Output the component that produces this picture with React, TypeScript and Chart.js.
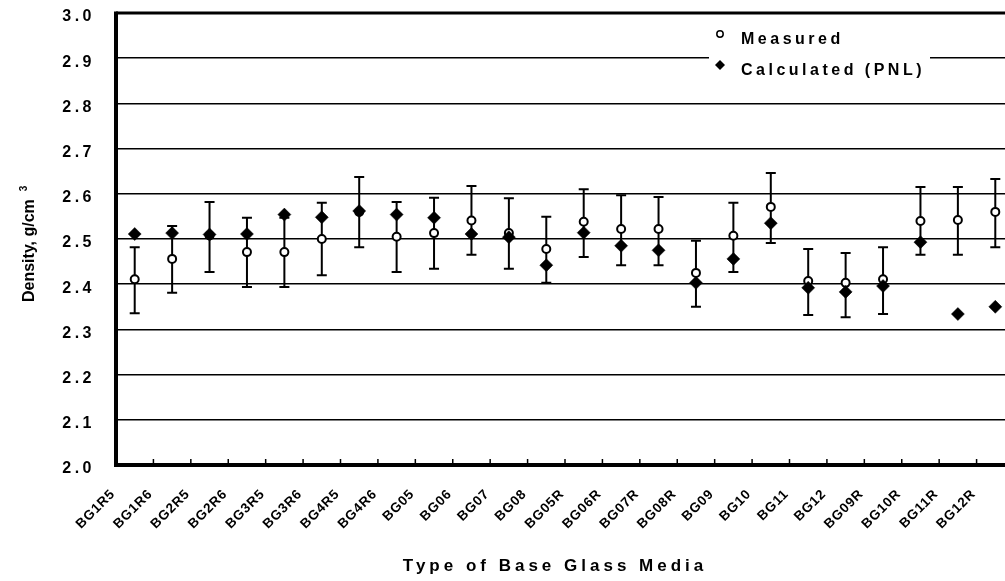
import React, { useEffect, useRef } from 'react';
import { Chart, registerables } from 'chart.js';

Chart.register(...registerables);

const categories = [
  'BG1R5', 'BG1R6', 'BG2R5', 'BG2R6', 'BG3R5', 'BG3R6', 'BG4R5', 'BG4R6',
  'BG05', 'BG06', 'BG07', 'BG08', 'BG05R', 'BG06R', 'BG07R', 'BG08R',
  'BG09', 'BG10', 'BG11', 'BG12', 'BG09R', 'BG10R', 'BG11R', 'BG12R',
];

const measured = [
  2.411, 2.456, 2.508, 2.471, 2.471, 2.500, 2.560, 2.505,
  2.513, 2.541, 2.513, 2.478, 2.538, 2.522, 2.522, 2.425,
  2.507, 2.571, 2.407, 2.403, 2.411, 2.540, 2.542, 2.560,
];

const calculated = [
  2.511, 2.513, 2.510, 2.511, 2.554, 2.548, 2.562, 2.554,
  2.547, 2.511, 2.504, 2.442, 2.514, 2.485, 2.475, 2.403,
  2.456, 2.535, 2.392, 2.383, 2.396, 2.493, 2.334, 2.350,
];

const errHigh = [
  2.482, 2.529, 2.582, 2.547, 2.547, 2.580, 2.637, 2.582,
  2.591, 2.617, 2.590, 2.549, 2.610, 2.597, 2.593, 2.496,
  2.580, 2.646, 2.478, 2.469, 2.482, 2.615, 2.615, 2.633,
];

const errLow = [
  2.336, 2.381, 2.427, 2.394, 2.394, 2.420, 2.482, 2.427,
  2.434, 2.465, 2.434, 2.403, 2.460, 2.442, 2.442, 2.350,
  2.427, 2.491, 2.332, 2.327, 2.334, 2.465, 2.465, 2.482,
];

const yMin = 2.0;
const yMax = 3.0;
const yStep = 0.1;

const xTitle = 'Type of Base Glass Media';
const yTitle = 'Density, g/cm';
const yTitleSup = '3';
const seriesLabels = ['Measured', 'Calculated (PNL)'];

const FONT = "'Liberation Sans', Arial, Helvetica, sans-serif";

const chartPlugin = {
  id: 'customDecor',
  beforeDraw(chart: any) {
    chart.ctx.letterSpacing = '3.5px';
  },
  beforeDatasetsDraw(chart: any) {
    const { ctx, chartArea: a, scales } = chart;
    const x = scales.x;
    const y = scales.y;
    ctx.save();
    ctx.letterSpacing = '0px';
    ctx.strokeStyle = '#000';
    // frame
    ctx.lineWidth = 3.2;
    ctx.beginPath();
    ctx.moveTo(a.left, a.top);
    ctx.lineTo(a.right + 30, a.top);
    ctx.stroke();
    ctx.lineWidth = 4;
    ctx.beginPath();
    ctx.moveTo(a.left, a.top - 1.6);
    ctx.lineTo(a.left, a.bottom);
    ctx.lineTo(a.right + 30, a.bottom);
    ctx.stroke();
    // x tick marks at category boundaries
    ctx.lineWidth = 1.5;
    for (let i = 1; i < categories.length; i++) {
      const px = x.getPixelForValue(i - 0.5);
      ctx.beginPath();
      ctx.moveTo(px, a.bottom);
      ctx.lineTo(px, a.bottom - 6);
      ctx.stroke();
    }
    // error bars
    ctx.lineWidth = 2;
    for (let i = 0; i < categories.length; i++) {
      const px = x.getPixelForValue(i);
      const hi = y.getPixelForValue(errHigh[i]);
      const lo = y.getPixelForValue(errLow[i]);
      ctx.beginPath();
      ctx.moveTo(px, hi);
      ctx.lineTo(px, lo);
      ctx.moveTo(px - 5, hi);
      ctx.lineTo(px + 5, hi);
      ctx.moveTo(px - 5, lo);
      ctx.lineTo(px + 5, lo);
      ctx.stroke();
    }
    ctx.restore();
  },
  afterDraw(chart: any) {
    const { ctx, chartArea: a, scales } = chart;
    const x = scales.x;
    ctx.save();
    ctx.fillStyle = '#000';
    ctx.strokeStyle = '#000';

    // x category labels, rotated
    ctx.font = `bold 13.5px ${FONT}`;
    ctx.letterSpacing = '0.8px';
    ctx.textAlign = 'right';
    ctx.textBaseline = 'middle';
    categories.forEach((c, i) => {
      const px = x.getPixelForValue(i - 0.5) - 3;
      ctx.save();
      ctx.translate(px, a.bottom + 27);
      ctx.rotate(-Math.PI / 4);
      ctx.fillText(c, 0, 0);
      ctx.restore();
    });

    // x title
    ctx.font = `bold 17px ${FONT}`;
    ctx.letterSpacing = '4px';
    ctx.textAlign = 'center';
    ctx.textBaseline = 'middle';
    ctx.fillText(xTitle, 555, 566);

    // y title
    ctx.save();
    ctx.letterSpacing = '0px';
    ctx.translate(30, 302);
    ctx.rotate(-Math.PI / 2);
    ctx.font = `bold 16px ${FONT}`;
    ctx.textAlign = 'left';
    ctx.textBaseline = 'middle';
    ctx.fillText(yTitle, 0, 0);
    const w = ctx.measureText(yTitle).width;
    ctx.font = `bold 10px ${FONT}`;
    ctx.fillText(yTitleSup, w + 8, -6);
    ctx.restore();

    // legend
    ctx.fillStyle = '#fff';
    ctx.fillRect(709, 20, 221, 72);
    // circle marker
    ctx.lineWidth = 1.5;
    ctx.beginPath();
    ctx.arc(720, 34, 3.2, 0, Math.PI * 2);
    ctx.fillStyle = '#fff';
    ctx.fill();
    ctx.stroke();
    // diamond marker
    ctx.fillStyle = '#000';
    ctx.beginPath();
    ctx.moveTo(720, 60);
    ctx.lineTo(725, 65);
    ctx.lineTo(720, 70);
    ctx.lineTo(715, 65);
    ctx.closePath();
    ctx.fill();
    ctx.font = `bold 16px ${FONT}`;
    ctx.letterSpacing = '3.5px';
    ctx.textAlign = 'left';
    ctx.textBaseline = 'middle';
    ctx.fillText(seriesLabels[0], 741, 40);
    ctx.fillText(seriesLabels[1], 741, 71);
    ctx.restore();
  },
};

export default function App() {
  const ref = useRef<HTMLCanvasElement>(null);
  useEffect(() => {
    document.body.style.margin = '0';
    const chart = new Chart(ref.current as HTMLCanvasElement, {
      type: 'line',
      data: {
        labels: categories,
        datasets: [
          {
            label: seriesLabels[0],
            data: measured,
            showLine: false,
            pointStyle: 'circle',
            pointRadius: 4,
            pointBorderWidth: 2,
            pointBackgroundColor: '#fff',
            pointBorderColor: '#000',
            order: 2,
          },
          {
            label: seriesLabels[1],
            data: calculated,
            showLine: false,
            pointStyle: 'rectRot',
            pointRadius: 6.5,
            pointBorderWidth: 0.5,
            pointBackgroundColor: '#000',
            pointBorderColor: '#000',
            order: 1,
          },
        ],
      },
      options: {
        responsive: false,
        animation: false,
        events: [],
        layout: { padding: { left: 0, right: 26, top: 13, bottom: 0 } },
        plugins: { legend: { display: false }, tooltip: { enabled: false } },
        scales: {
          x: {
            type: 'category',
            offset: true,
            grid: { display: false },
            border: { display: false },
            ticks: { display: false },
            afterFit: (s: any) => { s.height = 116; },
          },
          y: {
            min: yMin,
            max: yMax,
            ticks: {
              stepSize: yStep,
              callback: (v: any) => Number(v).toFixed(1),
              font: { family: FONT, size: 16, weight: 'bold' },
              color: '#000',
              padding: 21,
              labelOffset: 4,
            },
            grid: { color: '#000', lineWidth: 1.6, drawTicks: false },
            border: { display: false },
            afterFit: (s: any) => {
              s.width = 116;
              s.paddingTop = 0;
              s.paddingBottom = 0;
            },
          },
        },
      },
      plugins: [chartPlugin],
    } as any);
    return () => chart.destroy();
  }, []);
  return (
    <div style={{ width: 1005, height: 581, overflow: 'hidden' }}>
      <canvas ref={ref} width={1040} height={581} style={{ display: 'block' }} />
    </div>
  );
}
